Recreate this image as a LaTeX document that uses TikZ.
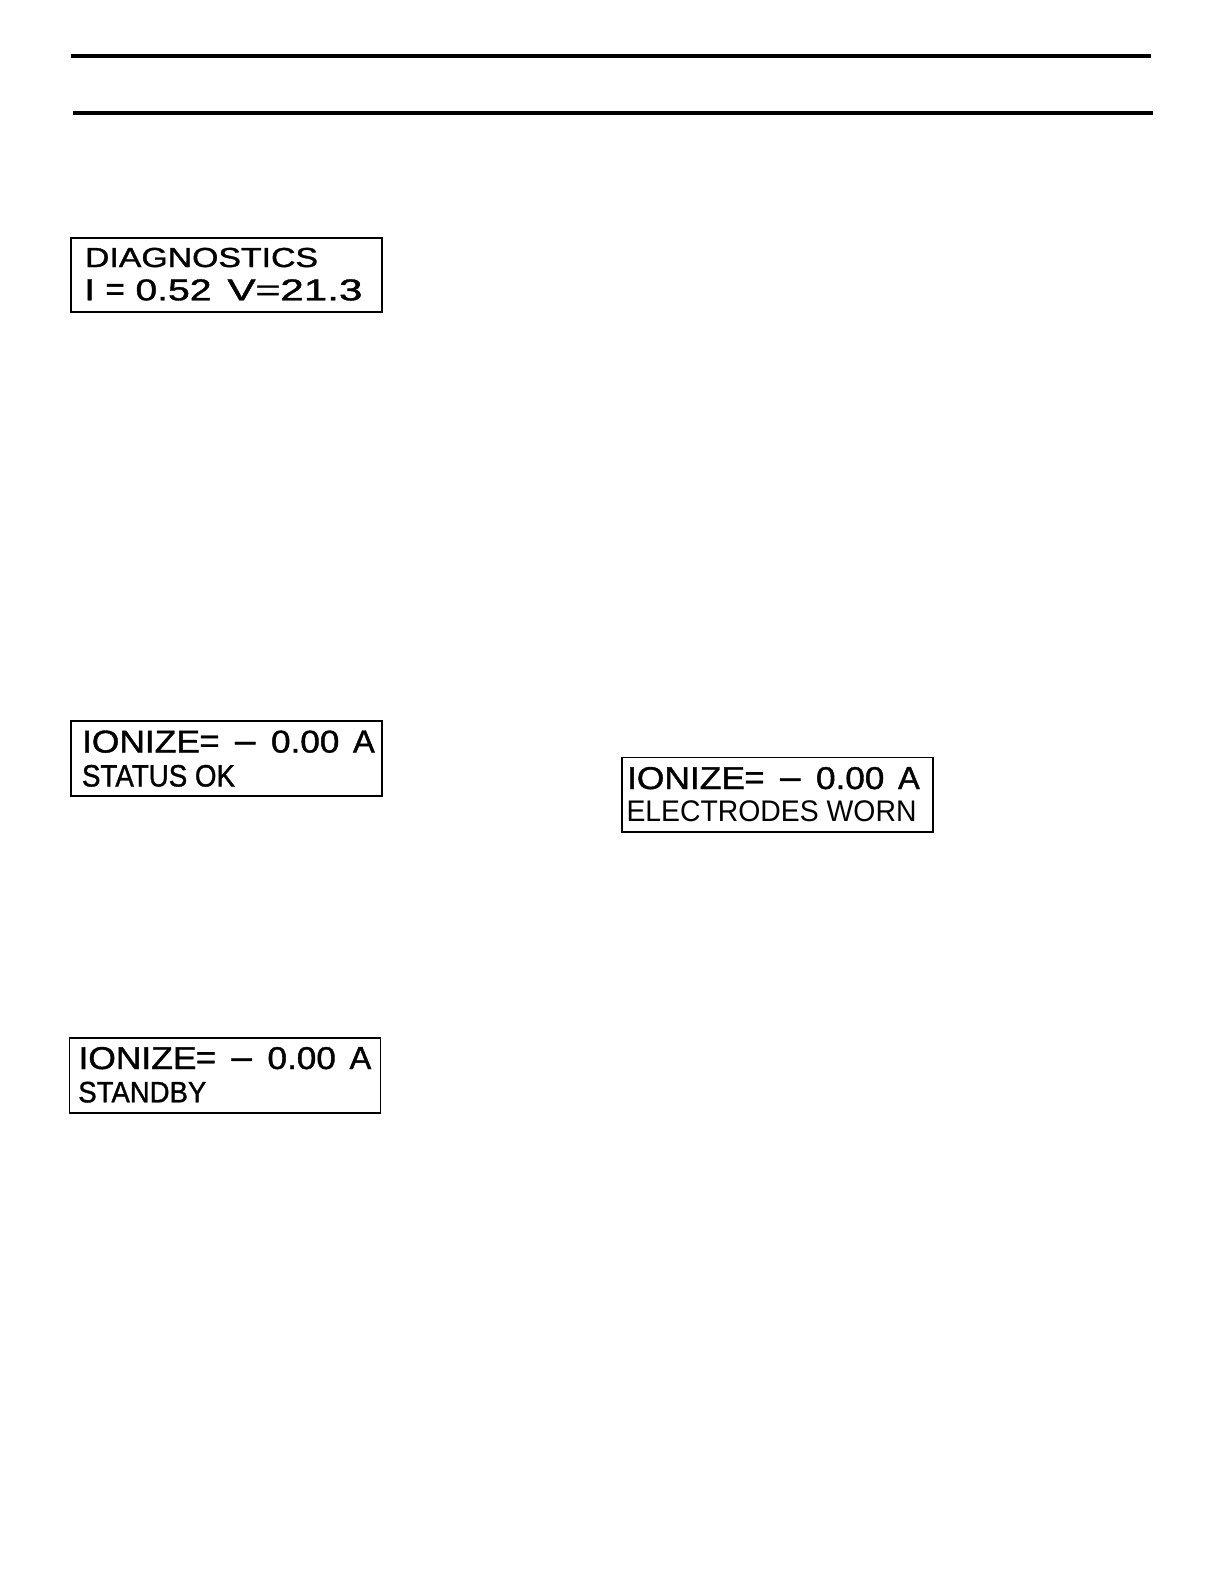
\documentclass[tikz,border=0pt]{standalone}
\usepackage{fontspec}
\setmainfont[FakeBold=1.2]{Liberation Sans}
\newfontfamily\lcdlight{Liberation Sans}
\usepackage{graphicx}
\tikzset{
  rule/.style={line width=2pt, line cap=butt},
  lcdbox/.style={line width=0.65pt},
  lcdtxt/.style={inner sep=0pt, outer sep=0pt, anchor=base west, text=black}
}
% segment of width #1 (pt) and cap height #2 (pt), placed at offset #3 (px) from line start
\newcommand{\lcdseg}[4]{\rlap{\hspace{#3\dimexpr 0.5pt\relax}\resizebox{#1pt}{#2pt}{#4}}}
\newcommand{\lcdsym}[3]{\rlap{\hspace{#2\dimexpr 0.5pt\relax}\resizebox{#1pt}{!}{#3}}}
\newcommand{\lcdtall}[3]{\rlap{\hspace{#2\dimexpr 0.5pt\relax}\scalebox{1.2}[1]{\resizebox{!}{#1pt}{#3}}}}
\newcommand{\lcdline}[3]{\resizebox{#1pt}{#2pt}{#3}}
\newcommand{\ionline}{%
  \lcdseg{59}{11}{0}{IONIZE}%
  \lcdsym{10}{117.5}{=}%
  \lcdsym{10.2}{153}{–}%
  \lcdseg{34.2}{11}{189}{0.00}%
  \lcdseg{10.9}{11}{271}{A}%
  \hspace{146.5pt}}
\begin{document}
\begin{tikzpicture}[x=0.5pt,y=-0.5pt]
\useasboundingbox (0,0) rectangle (1225,1585);
% header rules
\coordinate (r1a) at (71,56);
\coordinate (r1b) at (1151,56);
\coordinate (r2a) at (73,113);
\coordinate (r2b) at (1153,113);
\draw[rule] (r1a) -- (r1b);
\draw[rule] (r2a) -- (r2b);
% box 1
\draw[lcdbox] (71,238) rectangle (382,312);
\node[lcdtxt] (d1) at (85,267) {\lcdline{116.5}{9.6}{DIAGNOSTICS}};
\node[lcdtxt] (d2) at (85,300.3) {%
  \lcdtall{10.5}{-1.5}{I}%
  \lcdsym{9.6}{19.5}{=}%
  \lcdseg{38}{10.5}{49.5}{0.52}%
  \lcdseg{67.5}{10.5}{141.5}{V=21.3}%
  \hspace{138.5pt}};
% box 2
\draw[lcdbox] (71,721) rectangle (382,796);
\node[lcdtxt] (s1) at (81,752.5) {\ionline};
\node[lcdtxt] (s2) at (82,786.5) {\lcdline{76.5}{10.8}{STATUS OK}};
% box 3
\draw[lcdbox] (69.5,1038) rectangle (380.5,1113);
\node[lcdtxt] (t1) at (77.5,1069) {\ionline};
\node[lcdtxt] (t2) at (78.3,1102.3) {\lcdline{64}{10.3}{STANDBY}};
% box 4
\draw[lcdbox] (622,757.5) rectangle (933,832);
\node[lcdtxt] (e1) at (626,789) {\ionline};
\node[lcdtxt] (e2) at (626.5,821) {\lcdline{145}{10.4}{\lcdlight ELECTRODES WORN}};
\end{tikzpicture}
\end{document}
